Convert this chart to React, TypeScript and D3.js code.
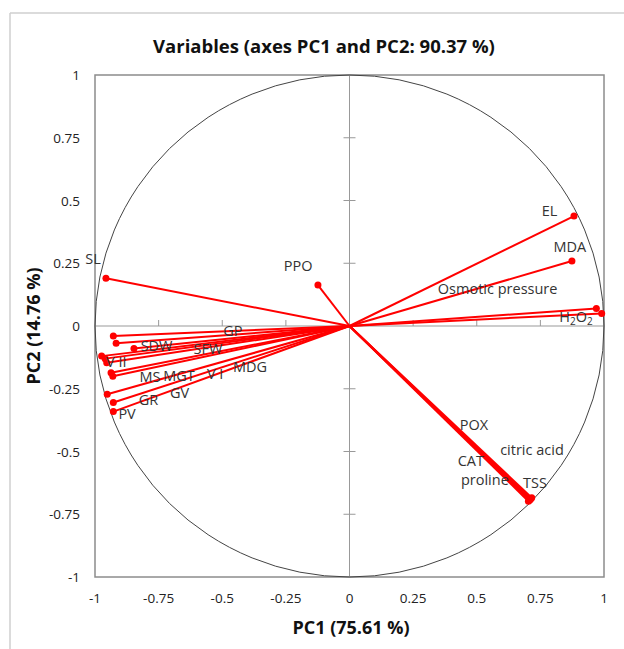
import React from 'react';
import * as d3 from 'd3';

// variable loadings on PC1 / PC2
const names = ['EL', 'MDA', 'Osmotic pressure', 'H2O2', 'PPO', 'SL', 'GP', 'SDW', 'SFW', 'V II', 'MS', 'MGT', 'V I', 'MDG', 'GR', 'GV', 'PV', 'POX', 'citric acid', 'CAT', 'proline', 'TSS'];
const pc1 = [0.882, 0.874, 0.97, 0.991, -0.124, -0.957, -0.928, -0.847, -0.917, -0.974, -0.937, -0.954, -0.96, -0.93, -0.928, -0.952, -0.928, 0.703, 0.712, 0.707, 0.71, 0.716];
const pc2 = [0.438, 0.259, 0.07, 0.05, 0.163, 0.19, -0.04, -0.09, -0.069, -0.12, -0.186, -0.146, -0.13, -0.2, -0.305, -0.272, -0.341, -0.698, -0.688, -0.694, -0.691, -0.684];

// where XLSTAT put each label (data units)
const labelX = [0.786, 0.866, 0.582, 0.89, -0.202, -1.008, -0.458, -0.758, -0.556, -0.916, -0.784, -0.67, -0.528, -0.391, -0.79, -0.668, -0.874, 0.489, 0.717, 0.477, 0.532, 0.729];
const labelY = [0.458, 0.315, 0.147, 0.036, 0.239, 0.267, -0.02, -0.08, -0.092, -0.143, -0.203, -0.2, -0.191, -0.163, -0.295, -0.267, -0.351, -0.394, -0.494, -0.538, -0.614, -0.625];

const ticks = [-1, -0.75, -0.5, -0.25, 0, 0.25, 0.5, 0.75, 1];

const title = 'Variables (axes PC1 and PC2: 90.37 %)';
const xTitle = 'PC1 (75.61 %)';
const yTitle = 'PC2 (14.76 %)';

const font = '"Open Sans", "Noto Sans", sans-serif';

const App = () => {
  const width = 624;
  const height = 649;
  const x = d3.scaleLinear().domain([-1, 1]).range([95, 604]);
  const y = d3.scaleLinear().domain([-1, 1]).range([577, 75]);
  const fmt = (v: number) => (v === 0 ? '0' : String(v));

  const renderLabel = (name: string) => {
    if (name === 'H2O2') {
      return (
        <>
          H<tspan fontSize={10} dy={3}>2</tspan>
          <tspan dy={-3}>O</tspan>
          <tspan fontSize={10} dy={3}>2</tspan>
        </>
      );
    }
    return name;
  };

  return (
    <svg width={width} height={height} style={{ position: 'absolute', left: 0, top: 0, background: '#fff' }} fontFamily={font}>
      {/* outer frame */}
      <line x1={10} y1={13} x2={width} y2={13} stroke="#cfcfcf" strokeWidth={1.5} />
      <line x1={10} y1={13} x2={10} y2={height} stroke="#cfcfcf" strokeWidth={1.5} />

      <text x={324} y={53} textAnchor="middle" fontSize={18.5} fontWeight="bold" fill="#111">{title}</text>

      {/* plot box */}
      <rect x={x(-1)} y={y(1)} width={x(1) - x(-1)} height={y(-1) - y(1)} fill="none" stroke="#8c8c8c" strokeWidth={1.5} />

      {/* axes through origin */}
      <line x1={x(0)} y1={y(1)} x2={x(0)} y2={y(-1)} stroke="#999" strokeWidth={1} />
      <line x1={x(-1)} y1={y(0)} x2={x(1)} y2={y(0)} stroke="#999" strokeWidth={1} />
      {ticks.filter(t => Math.abs(t) < 1 && t !== 0).map(t => (
        <g key={'t' + t}>
          <line x1={x(t)} y1={y(0) - 6} x2={x(t)} y2={y(0)} stroke="#999" />
          <line x1={x(0) - 6} y1={y(t)} x2={x(0) + 6} y2={y(t)} stroke="#999" />
        </g>
      ))}

      {/* correlation circle */}
      <ellipse cx={x(0)} cy={y(0)} rx={(x(1) - x(-1)) / 2} ry={(y(-1) - y(1)) / 2} fill="none" stroke="#444" strokeWidth={1} />

      {/* tick labels */}
      {ticks.map(t => (
        <text key={'xl' + t} x={x(t)} y={603} textAnchor="middle" fontSize={13.5} fill="#222">{fmt(t)}</text>
      ))}
      {ticks.map(t => (
        <text key={'yl' + t} x={80} y={y(t) + 5} textAnchor="end" fontSize={13.5} fill="#222">{fmt(t)}</text>
      ))}

      <text x={351} y={634} textAnchor="middle" fontSize={18} fontWeight="bold" fill="#111">{xTitle}</text>
      <text transform={`translate(40,${y(0)}) rotate(-90)`} textAnchor="middle" fontSize={18} fontWeight="bold" fill="#111">{yTitle}</text>

      {/* vectors */}
      {names.map((n, i) => (
        <line key={'v' + n} x1={x(0)} y1={y(0)} x2={x(pc1[i])} y2={y(pc2[i])} stroke="#ff0000" strokeWidth={2} />
      ))}
      {names.map((n, i) => (
        <circle key={'p' + n} cx={x(pc1[i])} cy={y(pc2[i])} r={3.5} fill="#ff0000" />
      ))}

      {/* labels */}
      {names.map((n, i) => (
        <text key={'l' + n} x={x(labelX[i])} y={y(labelY[i])} dy="0.35em" textAnchor="middle" fontSize={14.5} fill="#333">{renderLabel(n)}</text>
      ))}
    </svg>
  );
};

export default App;
